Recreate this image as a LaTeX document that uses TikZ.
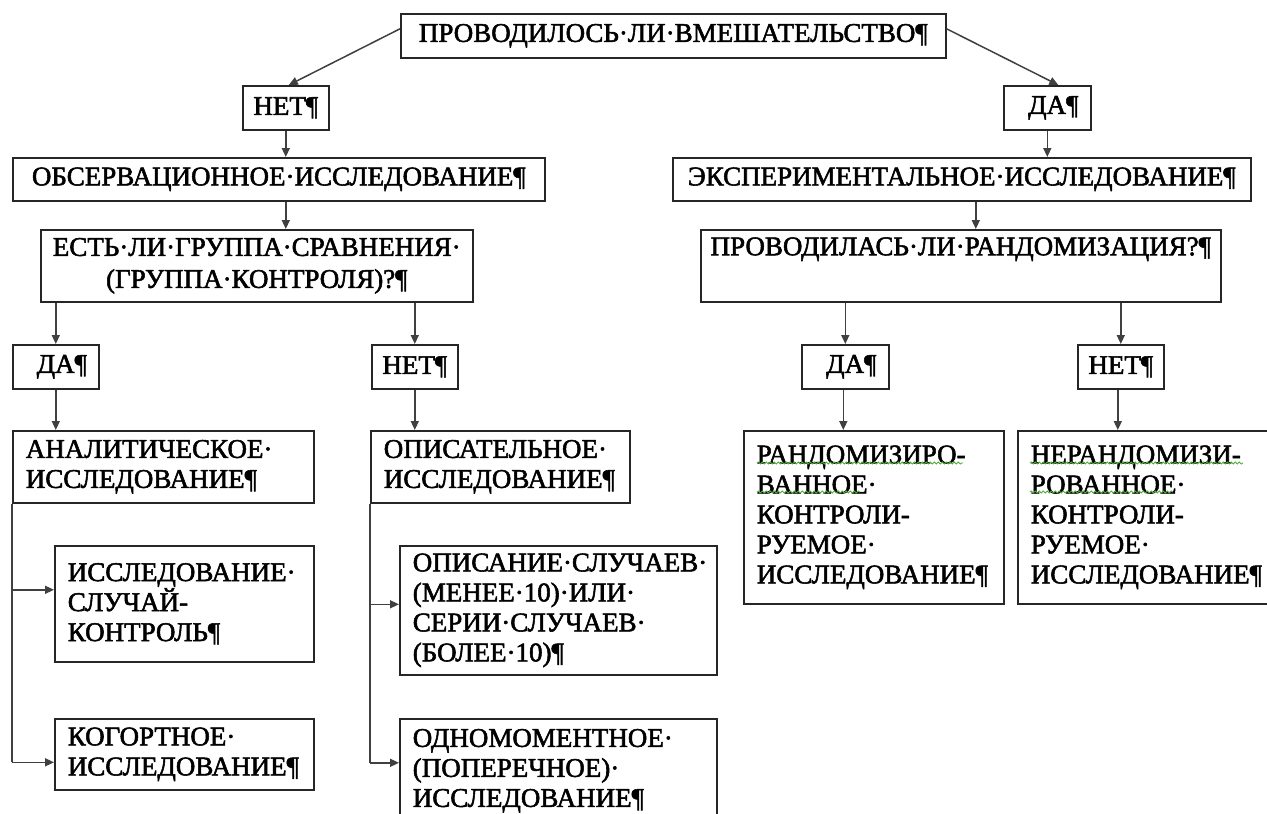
\documentclass[tikz,border=0pt]{standalone}
\usepackage{fontspec}
\setmainfont{Liberation Serif}[FakeBold=2]
\usetikzlibrary{arrows.meta,decorations.pathmorphing}
\newcommand\boxfont{\fontsize{27}{30}\selectfont}
\newcommand\estfont{\fontsize{27}{32}\selectfont}
\definecolor{squiggle}{RGB}{80,170,60}
\tikzset{
  box/.style={draw=black!85, line width=1.6pt, anchor=north west, inner xsep=13pt, inner ysep=0pt, font=\boxfont},
  cbox/.style={box, align=center},
  lbox/.style={box, align=left},
  conn/.style={draw=black!75, line width=1.5pt},
  arr/.style={conn, -{Triangle[length=9pt,width=8pt]}},
  wavy/.style={draw=squiggle, line width=0.8pt, decorate, decoration={snake, amplitude=1.1pt, segment length=4pt}}
}
\begin{document}
\begin{tikzpicture}[x=1pt,y=-1pt]
\useasboundingbox (0,0) rectangle (1267,814);
\clip (0,0) rectangle (1267,814);

% row 1
\node[cbox, minimum width=545pt, minimum height=44pt] (top) at (400,13) {ПРОВОДИЛОСЬ·ЛИ·ВМЕШАТЕЛЬСТВО¶};
% row 2
\node[cbox, minimum width=86pt, minimum height=44pt, inner xsep=0pt] (net1) at (242,85) {НЕТ¶};
\node[cbox, minimum width=87pt, minimum height=44pt, inner xsep=0pt] (da1) at (1003,85) {\hspace{12pt}ДА¶};
% row 3
\node[cbox, minimum width=532pt, minimum height=43pt, inner xsep=0pt] (obs) at (12,157) {ОБСЕРВАЦИОННОЕ·ИССЛЕДОВАНИЕ¶};
\node[cbox, minimum width=578pt, minimum height=43pt, inner xsep=0pt] (exp) at (672,157) {ЭКСПЕРИМЕНТАЛЬНОЕ·ИССЛЕДОВАНИЕ¶};
% row 4
\node[cbox, minimum width=432pt, minimum height=72pt, inner xsep=0pt, font=\estfont] (est) at (40,229) {ЕСТЬ·ЛИ·ГРУППА·СРАВНЕНИЯ·\\(ГРУППА·КОНТРОЛЯ)?¶};
\node[cbox, minimum width=520pt, minimum height=72pt, inner xsep=0pt] (prov) at (700,229) {ПРОВОДИЛАСЬ·ЛИ·РАНДОМИЗАЦИЯ?¶\\\strut};
% row 5
\node[cbox, minimum width=86pt, minimum height=44pt, inner xsep=0pt] (da2) at (12,344) {\hspace{12pt}ДА¶};
\node[cbox, minimum width=86pt, minimum height=44pt, inner xsep=0pt] (net2) at (371,344) {НЕТ¶};
\node[cbox, minimum width=87pt, minimum height=44pt, inner xsep=0pt] (da3) at (801,344) {\hspace{12pt}ДА¶};
\node[cbox, minimum width=86pt, minimum height=44pt, inner xsep=0pt] (net3) at (1077,344) {НЕТ¶};
% row 6
\node[lbox, text width=275pt, minimum height=72pt] (anal) at (12,430) {АНАЛИТИЧЕСКОЕ·\\ИССЛЕДОВАНИЕ¶};
\node[lbox, text width=233pt, minimum height=72pt] (opis) at (370,430) {ОПИСАТЕЛЬНОЕ·\\ИССЛЕДОВАНИЕ¶};
\node[lbox, text width=234pt, minimum height=173pt] (rand) at (743,430) {РАНДОМИЗИРО-\\ВАННОЕ·\\КОНТРОЛИ-\\РУЕМОЕ·\\ИССЛЕДОВАНИЕ¶};
\node[lbox, text width=239pt, minimum height=173pt] (nerand) at (1017,430) {НЕРАНДОМИЗИ-\\РОВАННОЕ·\\КОНТРОЛИ-\\РУЕМОЕ·\\ИССЛЕДОВАНИЕ¶};
% row 7
\node[lbox, text width=233pt, minimum height=116pt] (issl) at (54,545) {ИССЛЕДОВАНИЕ·\\СЛУЧАЙ-\\КОНТРОЛЬ¶};
\node[lbox, text width=233pt, minimum height=71pt] (kog) at (54,718) {КОГОРТНОЕ·\\ИССЛЕДОВАНИЕ¶};
\node[lbox, text width=291pt, minimum height=129pt] (opsl) at (399,545) {ОПИСАНИЕ·СЛУЧАЕВ·\\(МЕНЕЕ·10)·ИЛИ·\\СЕРИИ·СЛУЧАЕВ·\\(БОЛЕЕ·10)¶};
\node[lbox, text width=291pt, minimum height=104pt] (odnom) at (399,718) {ОДНОМОМЕНТНОЕ·\\(ПОПЕРЕЧНОЕ)·\\ИССЛЕДОВАНИЕ¶};

% connectors from top
\draw[arr] ([yshift=7pt]top.west) -- ([xshift=3pt]net1.north);
\draw[arr] ([yshift=7pt]top.east) -- ([xshift=11pt]da1.north);
% left branch
\draw[arr] (net1.south) -- (net1.south |- obs.north);
\draw[arr] (net1.south |- obs.south) -- (net1.south |- est.north);
\draw[arr] (da2.north |- est.south) -- (da2.north);
\draw[arr] (net2.north |- est.south) -- (net2.north);
\draw[arr] (da2.south) -- (da2.south |- anal.north);
\draw[arr] (net2.south) -- (net2.south |- opis.north);
% right branch
\draw[arr] (da1.south) -- (da1.south |- exp.north);
\coordinate (ec) at ([xshift=14pt]exp.south);
\draw[arr] (ec) -- (ec |- prov.north);
\draw[arr] (da3.north |- prov.south) -- (da3.north);
\draw[arr] (net3.north |- prov.south) -- (net3.north);
\draw[arr] ([xshift=-2pt]da3.south) -- ([xshift=-2pt]da3.south |- rand.north);
\draw[arr] ([xshift=-3pt]net3.south) -- ([xshift=-3pt]net3.south |- nerand.north);
% bottom left trunk
\coordinate (pA) at ([yshift=14pt]issl.west);
\coordinate (pB) at ([yshift=-8pt]kog.west);
\draw[conn] (anal.south west) -- (anal.south west |- pB);
\draw[arr] (anal.south west |- pA) -- (pA);
\draw[arr] (anal.south west |- pB) -- (pB);
% bottom middle trunk
\coordinate (pC) at ([yshift=6pt]opsl.west);
\coordinate (pD) at ([yshift=8pt]odnom.west);
\draw[conn] (opis.south west) -- (opis.south west |- pD);
\draw[arr] (opis.south west |- pC) -- (pC);
\draw[arr] (opis.south west |- pD) -- (pD);

% spelling squiggles
\draw[wavy] ([xshift=14pt,yshift=-33pt]rand.north west) -- ([xshift=220pt,yshift=-33pt]rand.north west);
\draw[wavy] ([xshift=14pt,yshift=-62pt]rand.north west) -- ([xshift=117pt,yshift=-62pt]rand.north west);
\draw[wavy] ([xshift=13pt,yshift=-33pt]nerand.north west) -- ([xshift=226pt,yshift=-33pt]nerand.north west);
\draw[wavy] ([xshift=13pt,yshift=-62pt]nerand.north west) -- ([xshift=156pt,yshift=-62pt]nerand.north west);
\end{tikzpicture}
\end{document}
